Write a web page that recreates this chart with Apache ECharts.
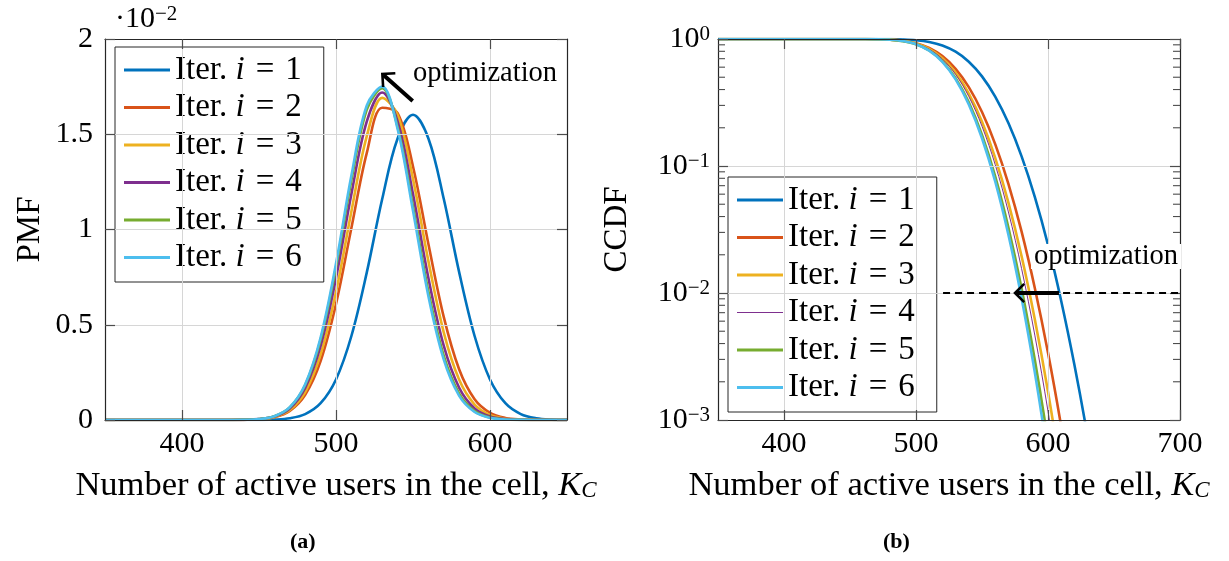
<!DOCTYPE html>
<html><head><meta charset="utf-8">
<script src="https://cdn.jsdelivr.net/npm/echarts@6/dist/echarts.min.js"></script>
<style>html,body{margin:0;padding:0;background:#fff}#c{width:1229px;height:561px}</style>
</head><body><div id="c"></div>
<script>
// ---------------- data ----------------
const iterNames = ['Iter. i = 1','Iter. i = 2','Iter. i = 3','Iter. i = 4','Iter. i = 5','Iter. i = 6'];

// PMF (values in units of 10^-2)
const pmfX = [350,400,430,440,450,460,470,480,490,500,510,520,530,540,550,560,570,580,590,600,610,620,630,640,650];
const pmfIter1 = [0,0,0,0.0001,0.0005,0.0023,0.0092,0.0308,0.088,0.213,0.441,0.775,1.160,1.478,1.602,1.478,1.160,0.775,0.441,0.213,0.088,0.031,0.009,0.002,0.0005];
const pmfIter2 = [0,0,0.0001,0.0008,0.0036,0.0143,0.0475,0.132,0.309,0.609,1.008,1.402,1.639,1.611,1.331,0.924,0.540,0.265,0.109,0.038,0.011,0.0027,0.0006,0.0001,0];
const pmfIter3 = [0,0,0.0001,0.0008,0.0039,0.0155,0.0523,0.147,0.344,0.672,1.095,1.490,1.691,1.601,1.265,0.834,0.459,0.211,0.081,0.026,0.0069,0.0015,0.0003,0,0];
const pmfIter4 = [0,0,0.0001,0.0009,0.0045,0.0181,0.0607,0.169,0.389,0.745,1.186,1.567,1.719,1.567,1.186,0.745,0.389,0.169,0.0607,0.0181,0.0045,0.0009,0.0001,0,0];
const pmfIter5 = [0,0,0.0001,0.001,0.0048,0.0195,0.0659,0.1835,0.422,0.802,1.258,1.629,1.742,1.538,1.121,0.675,0.336,0.138,0.0467,0.0131,0.003,0.0006,0.0001,0,0];
const pmfIter6 = [0,0,0.0001,0.001,0.0048,0.0198,0.0671,0.188,0.433,0.821,1.283,1.651,1.750,1.528,1.098,0.650,0.317,0.127,0.042,0.0115,0.0026,0.0005,0.0001,0,0];

// CCDF
const ccdfX = [350,400,440,450,460,470,480,490,500,510,520,530,540,550,560,570,580,590,600,610,620,630,640];
const ccdfIter1 = [1,1,1,0.99997,0.99985,0.99936,0.9976,0.99224,0.9783,0.9474,0.8888,0.7939,0.6628,0.508,0.352,0.2177,0.119,0.0571,0.0239,0.00866,0.00272,0.00074,0.00017];
const ccdfIter2 = [1,1,1,0.9998,0.99911,0.99662,0.98905,0.9696,0.9276,0.8512,0.734,0.5825,0.4175,0.266,0.1488,0.0724,0.0304,0.01095,0.00338,0.00089,0.0002];
const ccdfIter3 = [1,1,1,0.99983,0.99919,0.99671,0.98879,0.9677,0.9212,0.836,0.7066,0.5433,0.3722,0.2233,0.1159,0.0515,0.01946,0.00621,0.00167,0.000376];
const ccdfIter4 = [1,1,1,0.99985,0.99926,0.99686,0.98896,0.9674,0.9192,0.8304,0.6953,0.5266,0.3527,0.2055,0.1026,0.0435,0.01554,0.00466,0.00117,0.000243];
const ccdfIter5 = [1,1,1,0.99985,0.99921,0.99658,0.98778,0.9619,0.91,0.8122,0.6671,0.491,0.3167,0.1757,0.0829,0.0328,0.01087,0.00298,0.000676,0.000126];
const ccdfIter6 = [1,1,1,0.99987,0.9993,0.99684,0.98836,0.9645,0.9104,0.8106,0.6615,0.4815,0.3054,0.1655,0.0756,0.0288,0.00911,0.00237,0.000506,0.00009];

// tick values
const pmfXTicks = [400,500,600];
const ccdfXTicks = [400,500,600,700];
const ccdfMinor = [0.002,0.003,0.004,0.005,0.006,0.007,0.008,0.009,
                   0.02,0.03,0.04,0.05,0.06,0.07,0.08,0.09,
                   0.2,0.3,0.4,0.5,0.6,0.7,0.8,0.9];

// ---------------- style ----------------
const FONT = 'Liberation Serif';
const colors = ['#0072BD','#D95319','#EDB120','#7E2F8E','#77AC30','#4DBEEE'];
const pmfWidth = [2.6,2.6,2.6,2.6,2.6,2.6];
const ccdfWidth = [2.6,2.6,2.6,1,2.6,2.6];
const AX = '#262626', TK = '#4d4d4d', GRID = '#d6d6d6';
const ICON_THICK = 'path://M0,0 L46,0 L46,3 L0,3 Z';
const ICON_THIN  = 'path://M0,0 L46,0 M0,3 L46,3 M0,1 L46,1 L46,2 L0,2 Z';

const chart = echarts.init(document.getElementById('c'), null, {renderer:'canvas'});

const pmfSeries = [pmfIter1,pmfIter2,pmfIter3,pmfIter4,pmfIter5,pmfIter6];
const ccdfSeries = [ccdfIter1,ccdfIter2,ccdfIter3,ccdfIter4,ccdfIter5,ccdfIter6];

const series = [];
pmfSeries.forEach((vals,k)=>series.push({
  name: iterNames[k], type:'line', xAxisIndex:0, yAxisIndex:0,
  data: pmfX.map((x,j)=>[x, vals[j]]), symbol:'none', smooth:0.35,
  lineStyle:{color:colors[k], width:pmfWidth[k]}, itemStyle:{color:colors[k]},
  z: 3+k, animation:false
}));
ccdfSeries.forEach((vals,k)=>series.push({
  name: iterNames[k], type:'line', xAxisIndex:2, yAxisIndex:2,
  data: vals.map((v,j)=>[ccdfX[j], v]), symbol:'none', smooth:0.35,
  lineStyle:{color:colors[k], width:ccdfWidth[k]}, itemStyle:{color:colors[k]},
  z: 3+k, animation:false
}));

const legendText = {
  fontFamily: FONT, fontSize: 33, color:'#000', lineHeight: 30,
  rich: {
    t:  {fontFamily: FONT, fontSize: 33, lineHeight: 30, color:'#000'},
    it: {fontFamily: FONT, fontSize: 33, lineHeight: 30, fontStyle:'italic', color:'#000'},
    eq: {fontFamily: FONT, fontSize: 33, lineHeight: 30, padding:[0,11], color:'#000'}
  }
};
function legendFmt(name){ const n = name.slice(-1); return '{t|Iter. }{it|i}{eq|=}{t|' + n + '}'; }
function legendCfg(left, top, widths){
  return {
    orient:'vertical', left:left, top:top, itemWidth:46, itemHeight:3, itemGap:4.5,
    padding:[6.5,22,8,9], backgroundColor:'#fff', borderColor:AX, borderWidth:1, borderRadius:0,
    selectedMode:false,
    data: iterNames.map((n,k)=>({name:n, icon: widths[k] < 2 ? ICON_THIN : ICON_THICK,
      itemStyle:{color:colors[k], borderWidth:0}})),
    formatter: legendFmt, textStyle: legendText
  };
}

const axisNameStyle = {
  fontFamily: FONT, fontSize: 34.5, color:'#000',
  rich: {
    t: {fontFamily: FONT, fontSize: 34.5, color:'#000', lineHeight:34, verticalAlign:'top'},
    k: {fontFamily: FONT, fontSize: 34.5, color:'#000', fontStyle:'italic', lineHeight:34, verticalAlign:'top'},
    sub:{fontFamily: FONT, fontSize: 23, color:'#000', fontStyle:'italic', lineHeight:23, verticalAlign:'bottom', padding:[12,0,0,0]}
  }
};
const xName = '{t|Number of active users in the cell, }{k|K}{sub|C}';

function xAxisCfg(grid, pos, min, max, ticks, main){
  return {
    gridIndex:grid, type:'value', position:pos, min:min, max:max,
    axisLine:{show:true, onZero:false, lineStyle:{color:AX, width:1.2}},
    axisTick:{show:true, inside:true, length:10, customValues:ticks, lineStyle:{color:TK, width:1.2}},
    axisLabel:{show:main, customValues:ticks, margin:9, fontFamily:FONT, fontSize:30, color:'#000'},
    splitLine:{show:main, lineStyle:{color:GRID, width:1}},
    name: main ? xName : '', nameLocation:'middle', nameGap:48, nameTextStyle: axisNameStyle,
    z: 10
  };
}

const supRich = {
  b: {fontFamily:FONT, fontSize:30, color:'#000', lineHeight:30, verticalAlign:'bottom'},
  s: {fontFamily:FONT, fontSize:21, color:'#000', lineHeight:21, verticalAlign:'top', padding:[0,0,12,0]}
};

const option = {
  backgroundColor:'#fff',
  animation:false,
  grid:[
    {left:105, top:39, width:462, height:381, show:false},
    {left:718, top:39, width:462, height:381, show:false}
  ],
  xAxis:[
    xAxisCfg(0,'bottom',350,650,pmfXTicks,true),
    xAxisCfg(0,'top',350,650,pmfXTicks,false),
    xAxisCfg(1,'bottom',350,700,ccdfXTicks,true),
    xAxisCfg(1,'top',350,700,ccdfXTicks,false)
  ],
  yAxis:[
    {gridIndex:0, type:'value', position:'left', min:0, max:2, interval:0.5,
     axisLine:{show:true, onZero:false, lineStyle:{color:AX, width:1.2}},
     axisTick:{show:true, inside:true, length:10, lineStyle:{color:TK, width:1.2}},
     axisLabel:{margin:12, fontFamily:FONT, fontSize:30, color:'#000'},
     splitLine:{show:true, lineStyle:{color:GRID, width:1}},
     name:'PMF', nameLocation:'middle', nameGap:58, nameRotate:90,
     nameTextStyle:{fontFamily:FONT, fontSize:33, color:'#000'}, z:10},
    {gridIndex:0, type:'value', position:'right', min:0, max:2, interval:0.5,
     axisLine:{show:true, onZero:false, lineStyle:{color:AX, width:1.2}},
     axisTick:{show:true, inside:true, length:10, lineStyle:{color:TK, width:1.2}},
     axisLabel:{show:false}, splitLine:{show:false}, z:10},
    {gridIndex:1, type:'log', logBase:10, position:'left', min:0.001, max:1,
     axisLine:{show:true, onZero:false, lineStyle:{color:AX, width:1.2}},
     axisTick:{show:true, inside:true, length:10, lineStyle:{color:TK, width:1.2}},
     axisLabel:{margin:8, fontFamily:FONT, fontSize:30, color:'#000',
       formatter: v => { const e = Math.round(Math.log10(v)); return '{b|10}{s|' + (e===0 ? '0' : '\u2212' + (-e)) + '}'; },
       rich: supRich},
     splitLine:{show:true, lineStyle:{color:GRID, width:1}},
     name:'CCDF', nameLocation:'middle', nameGap:84, nameRotate:90,
     nameTextStyle:{fontFamily:FONT, fontSize:33, color:'#000'}, z:10},
    {gridIndex:1, type:'log', logBase:10, position:'right', min:0.001, max:1,
     axisLine:{show:true, onZero:false, lineStyle:{color:AX, width:1.2}},
     axisTick:{show:true, inside:true, length:10, lineStyle:{color:TK, width:1.2}},
     axisLabel:{show:false}, splitLine:{show:false}, z:10}
  ],
  legend:[
    legendCfg(115, 47, pmfWidth),
    legendCfg(728, 177, ccdfWidth)
  ],
  series: series
};
chart.setOption(option);

// ---------------- annotations (positioned through the axes) ----------------
function px(gridAxes, x, y){ return chart.convertToPixel(gridAxes, [x, y]); }
const G0 = {xAxisIndex:0, yAxisIndex:0};
const G1 = {xAxisIndex:2, yAxisIndex:2};

function arrow(tail, tip, w){
  const dx = tail[0]-tip[0], dy = tail[1]-tip[1];
  const L = Math.hypot(dx,dy), ux = dx/L, uy = dy/L;
  const a = Math.PI/4, len = 13;
  const r1 = [tip[0] + len*(ux*Math.cos(a) - uy*Math.sin(a)), tip[1] + len*(ux*Math.sin(a) + uy*Math.cos(a))];
  const r2 = [tip[0] + len*(ux*Math.cos(-a) - uy*Math.sin(-a)), tip[1] + len*(ux*Math.sin(-a) + uy*Math.cos(-a))];
  return [
    {type:'line', z:50, shape:{x1:tail[0],y1:tail[1],x2:tip[0]+ux*1.5,y2:tip[1]+uy*1.5}, style:{stroke:'#000', lineWidth:w, lineCap:'butt'}},
    {type:'polyline', z:50, shape:{points:[r1, tip, r2]}, style:{stroke:'#000', lineWidth:2.6, fill:null, lineJoin:'miter'}}
  ];
}

const graphics = [];
// minor ticks on log axis (left and right)
const xl = chart.convertToPixel({xAxisIndex:2}, 350), xr = chart.convertToPixel({xAxisIndex:2}, 700);
ccdfMinor.forEach(v=>{
  const y = chart.convertToPixel({yAxisIndex:2}, v);
  graphics.push({type:'line', z:40, shape:{x1:xl, y1:y, x2:xl+7, y2:y}, style:{stroke:TK, lineWidth:1.1}});
  graphics.push({type:'line', z:40, shape:{x1:xr-7, y1:y, x2:xr, y2:y}, style:{stroke:TK, lineWidth:1.1}});
});
// dashed 10^-2 reference line
const d1 = px(G1, 520.5, 0.01), d2 = px(G1, 700, 0.01);
graphics.push({type:'line', z:45, shape:{x1:d1[0], y1:d1[1], x2:d2[0], y2:d2[1]}, style:{stroke:'#000', lineWidth:2, lineDash:[7,5]}});
// arrows
arrow(px(G0, 549.8, 1.675), px(G0, 530.1, 1.816), 4).forEach(g=>graphics.push(g));
arrow(px(G1, 608.3, 0.01), px(G1, 575, 0.01), 4).forEach(g=>graphics.push(g));
// "optimization" labels
const t1 = px(G0, 550, 1.827), t2 = px(G1, 589.4, 0.0199);
graphics.push({type:'text', z:60, left:t1[0], top:t1[1]-13, style:{text:'optimization', fontFamily:FONT, fontSize:28.5, fill:'#000'}});
graphics.push({type:'text', z:60, left:t2[0]-3, top:t2[1]-13, style:{text:'optimization', fontFamily:FONT, fontSize:28.5, fill:'#000', backgroundColor:'#fff', padding:[0,3,0,3], lineHeight:25}});
// axis multiplier
graphics.push({type:'text', left:115, top:4, style:{text:'{b|\u00b710}{s|\u22122}', rich:supRich}});
// captions
graphics.push({type:'text', left:290, top:531, style:{text:'(a)', fontFamily:FONT, fontWeight:'bold', fontSize:22, fill:'#000', align:'center', verticalAlign:'middle'}});
graphics.push({type:'text', left:883, top:531, style:{text:'(b)', fontFamily:FONT, fontWeight:'bold', fontSize:22, fill:'#000', align:'center', verticalAlign:'middle'}});
chart.setOption({graphic: graphics});
</script>
</body></html>
